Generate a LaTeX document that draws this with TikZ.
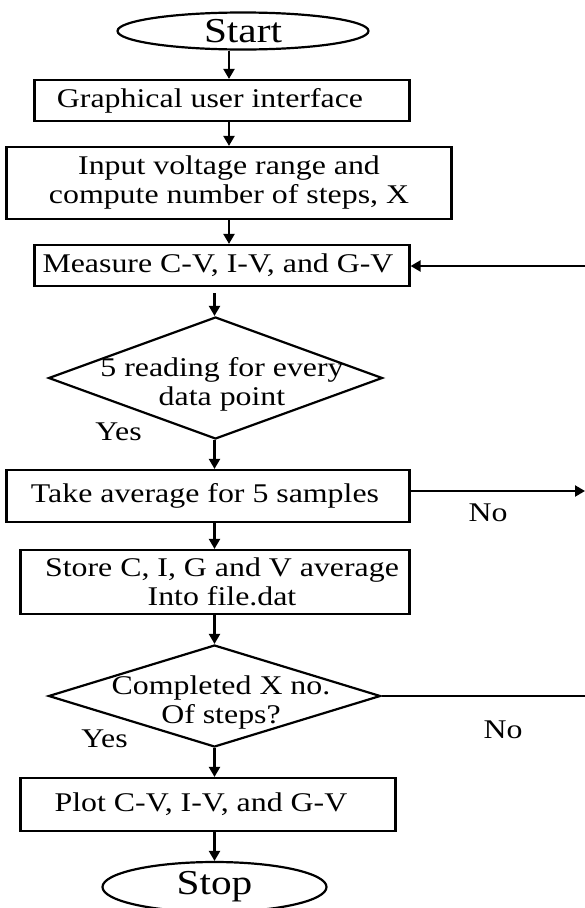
\documentclass[tikz,border=0pt]{standalone}
\usepackage{fontspec}
\setmainfont{Liberation Serif}[FakeStretch=1.18]
\usetikzlibrary{shapes.geometric,arrows.meta}
\newcommand\bodyfont{\fontsize{27pt}{29pt}\selectfont}
\newcommand\bigfont{\fontsize{35pt}{38pt}\selectfont}
\begin{document}
\begin{tikzpicture}[x=1pt,y=-1pt,
  every node/.style={font=\bodyfont, text=black},
  ln/.style={line width=2.2pt},
  arr/.style={ln,-{Triangle[length=10pt,width=11pt]}},
  box/.style={draw,ln,rectangle,inner sep=0pt,align=center},
  term/.style={draw,ln,ellipse,inner sep=0pt,font=\bigfont},
  dia/.style={draw,ln,diamond,inner sep=0pt},
  lbl/.style={inner sep=0pt}]
\useasboundingbox (0,0) rectangle (585,908);
% nodes
\node[term,minimum width=251pt,minimum height=37pt] (start) at (243,31) {Start};
\node[box,minimum width=375pt,minimum height=41pt] (gui) at (222,100.5) {Graphical user interface\hspace*{24pt}};
\node[box,minimum width=445pt,minimum height=72pt] (input) at (229,183) {Input voltage range and\\compute number of steps, X};
\node[box,minimum width=375pt,minimum height=41pt] (measure) at (222,265.5) {Measure C-V, I-V, and G-V\hspace*{8pt}};
\node[dia,minimum width=334pt,minimum height=122pt] (d1) at (215.5,378) {};
\node[lbl,align=center] (d1t) at (222,384) {5 reading for every\\data point};
\node[lbl] (yes1) at (118.5,432) {Yes};
\node[box,minimum width=403pt,minimum height=52pt] (take) at (208,496) {Take average for 5 samples\hspace*{6pt}};
\node[lbl] (no1) at (488,513) {No};
\node[box,minimum width=389pt,minimum height=64pt] (store) at (215,582) {\hspace*{14pt}Store C, I, G and V average\\\hspace*{14pt}Into file.dat};
\node[dia,minimum width=332pt,minimum height=102pt] (d2) at (214.5,696) {};
\node[lbl,align=center] (d2t) at (221,702) {Completed X no.\\Of steps?};
\node[lbl] (yes2) at (104.5,739) {Yes};
\node[lbl] (no2) at (503,730) {No};
\node[box,minimum width=375pt,minimum height=53pt] (plot) at (208,804.5) {Plot C-V, I-V, and G-V\hspace*{14pt}};
\node[term,minimum width=224pt,minimum height=50pt] (stop) at (214.5,887) {Stop};
% helper coordinates
\coordinate (sa) at (229,0);
\coordinate (sb) at (214.5,0);
\coordinate (rin) at (585,266);
\coordinate (rout) at (585,491);
\coordinate (rno) at (585,697);
% connectors
\draw[arr] (start.south -| sa) -- (gui.north -| sa);
\draw[arr] (gui.south -| sa) -- (input.north -| sa);
\draw[arr] (input.south -| sa) -- (measure.north -| sa);
\draw[arr] (rin) -- (measure.east |- rin);
\draw[arr,shorten <=6pt] (measure.south -| sb) -- (d1.north -| sb);
\draw[arr] (d1.south -| sb) -- (take.north -| sb);
\draw[arr] (take.east |- rout) -- (rout);
\draw[arr] (take.south -| sb) -- (store.north -| sb);
\draw[arr] (store.south -| sb) -- (d2.north -| sb);
\draw[ln] (d2.east) -- (d2.east -| rno);
\draw[arr] (d2.south -| sb) -- (plot.north -| sb);
\draw[arr] (plot.south -| sb) -- (stop.north -| sb);
\end{tikzpicture}
\end{document}
